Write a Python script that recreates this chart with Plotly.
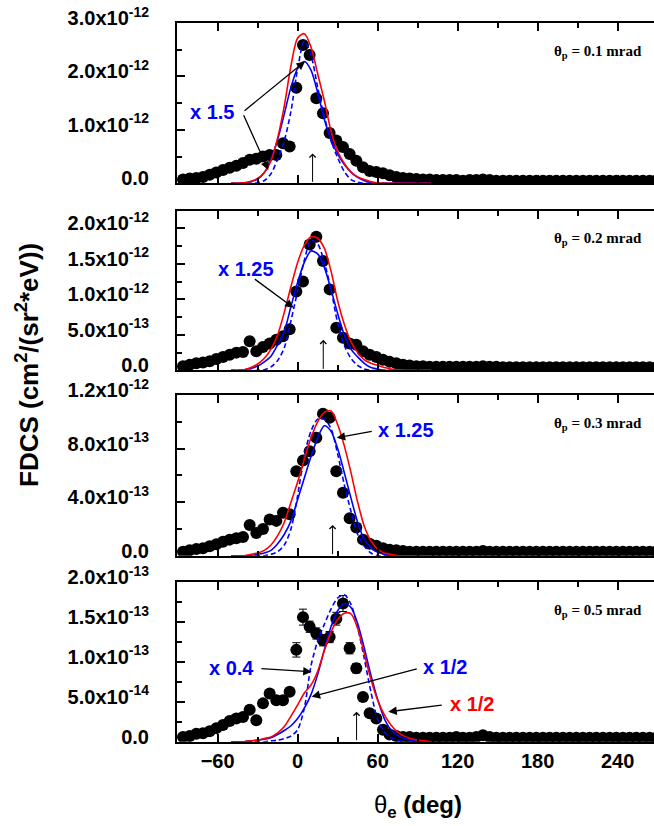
import plotly.graph_objects as go

# ---------------- data ----------------
theta_e = [-86, -81, -76, -71, -66, -61, -56, -51, -46, -41, -36, -31, -26, -21, -16, -11, -6, -1,
           4, 9, 14, 19, 24, 29, 34, 39, 44, 49, 54, 59, 64, 69, 74, 79, 84, 89, 94, 99,
           104, 109, 114, 119, 124, 129, 134, 139, 144, 149, 154, 159, 164, 169, 174, 179,
           184, 189, 194, 199, 204, 209, 214, 219, 224, 229, 234, 239, 244, 249, 254, 259, 264, 269]

# experimental FDCS, in units of the panel scale
exp_p1 = [0.07, 0.09, 0.10, 0.12, 0.16, 0.20, 0.25, 0.29, 0.33, 0.38, 0.44, 0.46, 0.50, 0.53, 0.53, 0.75, 0.69, 1.79,
          2.59, 2.40, 1.59, 1.31, 0.94, 0.80, 0.68, 0.55, 0.42, 0.30, 0.23, 0.21, 0.19, 0.15, 0.12, 0.10, 0.09, 0.08, 0.07, 0.07,
          0.06, 0.06, 0.06, 0.06, 0.05, 0.06, 0.06, 0.07, 0.06, 0.05, 0.05, 0.05, 0.05, 0.05, 0.05, 0.05,
          0.05, 0.05, 0.05, 0.05, 0.05, 0.05, 0.05, 0.05, 0.05, 0.05, 0.05, 0.05, 0.05, 0.05, 0.05, 0.05, 0.05, 0.05]
exp_p2 = [0.06, 0.08, 0.10, 0.11, 0.13, 0.16, 0.19, 0.22, 0.25, 0.26, 0.41, 0.27, 0.33, 0.38, 0.43, 0.48, 0.58, 1.11,
          1.25, 1.77, 1.88, 1.54, 1.14, 0.60, 0.46, 0.38, 0.36, 0.27, 0.22, 0.19, 0.15, 0.12, 0.10, 0.08, 0.07, 0.06, 0.06, 0.05,
          0.05, 0.05, 0.05, 0.05, 0.05, 0.05, 0.05, 0.06, 0.05, 0.05, 0.045, 0.045, 0.045, 0.045, 0.045, 0.045,
          0.045, 0.045, 0.045, 0.045, 0.045, 0.045, 0.045, 0.045, 0.045, 0.045, 0.045, 0.045, 0.045, 0.045, 0.045, 0.045, 0.045, 0.045]
exp_p3 = [0.03, 0.04, 0.05, 0.055, 0.07, 0.085, 0.105, 0.12, 0.13, 0.14, 0.23, 0.17, 0.20, 0.27, 0.26, 0.32, 0.31, 0.63,
          0.71, 0.78, 0.88, 1.06, 1.03, 0.63, 0.47, 0.28, 0.21, 0.12, 0.09, 0.075, 0.055, 0.045, 0.04, 0.035, 0.03, 0.03, 0.03, 0.03,
          0.03, 0.03, 0.03, 0.03, 0.03, 0.03, 0.03, 0.035, 0.03, 0.03, 0.03, 0.03, 0.03, 0.03, 0.03, 0.03,
          0.03, 0.03, 0.03, 0.03, 0.03, 0.03, 0.03, 0.03, 0.03, 0.03, 0.03, 0.03, 0.03, 0.03, 0.03, 0.03, 0.03, 0.03]
exp_p4 = [0.06, 0.07, 0.10, 0.105, 0.13, 0.17, 0.21, 0.26, 0.29, 0.31, 0.40, 0.27, 0.48, 0.605, 0.52, 0.52, 0.625, 1.15,
          1.56, 1.44, 1.355, 1.27, 1.31, 1.54, 1.73, 1.17, 0.92, 0.56, 0.355, 0.29, 0.15, 0.09, 0.07, 0.06, 0.06, 0.05, 0.05, 0.05,
          0.05, 0.05, 0.05, 0.06, 0.05, 0.05, 0.06, 0.08, 0.06, 0.05, 0.05, 0.05, 0.05, 0.05, 0.05, 0.05,
          0.05, 0.05, 0.05, 0.05, 0.05, 0.05, 0.05, 0.05, 0.05, 0.05, 0.05, 0.05, 0.05, 0.05, 0.05, 0.05, 0.05, 0.05]
err_p4 = [0.04, 0.04, 0.04, 0.04, 0.04, 0.04, 0.04, 0.04, 0.04, 0.04, 0.04, 0.04, 0.04, 0.04, 0.04, 0.04, 0.04, 0.09,
          0.10, 0.07, 0.07, 0.07, 0.07, 0.08, 0.10, 0.07, 0.06, 0.04, 0.04, 0.04, 0.04, 0.04, 0.04, 0.04, 0.04, 0.04, 0.04, 0.04,
          0.04, 0.04, 0.04, 0.04, 0.04, 0.04, 0.04, 0.04, 0.04, 0.04, 0.04, 0.04, 0.04, 0.04, 0.04, 0.04,
          0.04, 0.04, 0.04, 0.04, 0.04, 0.04, 0.04, 0.04, 0.04, 0.04, 0.04, 0.04, 0.04, 0.04, 0.04, 0.04, 0.04, 0.04]

# theory curves
theta_th = [-50, -45, -40, -35, -30, -25, -20, -15, -10, -5, 0, 5, 10, 15, 20, 25, 30, 35, 40, 45,
            50, 55, 60, 65, 70, 75, 80, 85, 90, 95, 100]
red_p1 = [0, 0, 0.01, 0.04, 0.09, 0.20, 0.42, 0.85, 1.45, 2.20, 2.72, 2.80, 2.55, 2.05, 1.55, 0.98, 0.60, 0.37, 0.21, 0.12,
          0.07, 0.03, 0.01, 0, 0, 0, 0, 0, 0, 0, 0]
blue_p1 = [0, 0, 0.01, 0.03, 0.08, 0.20, 0.45, 0.82, 1.30, 1.80, 2.15, 2.28, 2.12, 1.70, 1.20, 0.82, 0.55, 0.35, 0.21, 0.11,
           0.05, 0.02, 0, 0, 0, 0, 0, 0, 0, 0, 0]
dash_p1 = [0, 0, 0, 0, 0.01, 0.05, 0.18, 0.45, 0.80, 1.35, 2.15, 2.66, 2.40, 1.80, 1.25, 0.80, 0.48, 0.22, 0.07, 0.02,
           0, 0, 0, 0, 0, 0, 0, 0, 0, 0, 0]
red_p2 = [0, 0, 0.01, 0.04, 0.09, 0.17, 0.30, 0.50, 0.82, 1.18, 1.52, 1.76, 1.88, 1.86, 1.72, 1.40, 0.98, 0.65, 0.40, 0.25,
          0.15, 0.10, 0.07, 0.04, 0.02, 0.01, 0, 0, 0, 0, 0]
blue_p2 = [0, 0, 0.01, 0.03, 0.06, 0.12, 0.20, 0.36, 0.55, 0.90, 1.24, 1.52, 1.68, 1.64, 1.45, 1.14, 0.80, 0.50, 0.30, 0.19,
           0.10, 0.04, 0.02, 0, 0, 0, 0, 0, 0, 0, 0]
dash_p2 = [0, 0, 0, 0, 0, 0.01, 0.05, 0.14, 0.32, 0.70, 1.12, 1.55, 1.83, 1.78, 1.52, 1.14, 0.67, 0.35, 0.17, 0.07,
           0.02, 0, 0, 0, 0, 0, 0, 0, 0, 0, 0]
red_p3 = [0, 0, 0, 0.01, 0.02, 0.04, 0.08, 0.15, 0.25, 0.40, 0.55, 0.72, 0.88, 1.00, 1.07, 1.08, 0.98, 0.82, 0.62, 0.40,
          0.22, 0.11, 0.05, 0.02, 0.01, 0, 0, 0, 0, 0, 0]
blue_p3 = [0, 0, 0, 0, 0.01, 0.02, 0.04, 0.09, 0.16, 0.26, 0.42, 0.58, 0.74, 0.88, 0.97, 0.93, 0.80, 0.62, 0.43, 0.25,
           0.12, 0.06, 0.025, 0.01, 0, 0, 0, 0, 0, 0, 0]
dash_p3 = [0, 0, 0, 0, 0, 0, 0.01, 0.03, 0.08, 0.20, 0.45, 0.75, 0.93, 1.02, 1.02, 0.95, 0.76, 0.53, 0.33, 0.16,
           0.07, 0.02, 0, 0, 0, 0, 0, 0, 0, 0, 0]
red_p4 = [0, 0, 0, 0.01, 0.02, 0.04, 0.06, 0.11, 0.19, 0.32, 0.46, 0.61, 0.71, 0.88, 1.14, 1.37, 1.53, 1.61, 1.60, 1.42,
          1.10, 0.78, 0.52, 0.34, 0.21, 0.12, 0.07, 0.04, 0.02, 0.01, 0]
blue_p4 = [0, 0, 0, 0.01, 0.02, 0.03, 0.05, 0.09, 0.14, 0.20, 0.29, 0.42, 0.59, 0.84, 1.15, 1.44, 1.64, 1.73, 1.68, 1.48,
           1.17, 0.83, 0.53, 0.29, 0.15, 0.08, 0.04, 0.02, 0.01, 0, 0]
dash_p4 = [0, 0, 0, 0, 0, 0, 0.01, 0.02, 0.04, 0.07, 0.15, 0.42, 0.95, 1.26, 1.47, 1.66, 1.80, 1.84, 1.72, 1.43,
           1.04, 0.62, 0.28, 0.12, 0.05, 0.02, 0, 0, 0, 0, 0]

panel_scale = [1e-12, 1e-12, 1e-12, 1e-13]
panel_labels = ["0.1", "0.2", "0.3", "0.5"]
y_ranges = [[0, 3.0], [0, 2.25], [0, 1.2], [0, 2.0]]
y_major = [[0, 1.0, 2.0, 3.0], [0, 0.5, 1.0, 1.5, 2.0], [0, 0.4, 0.8, 1.2], [0, 0.5, 1.0, 1.5, 2.0]]
y_minor = [[0.5, 1.5, 2.5], [0.25, 0.75, 1.25, 1.75], [0.2, 0.6, 1.0], [0.25, 0.75, 1.25, 1.75]]
y_ticktext = [["0.0", "1.0x10<sup>-12</sup>", "2.0x10<sup>-12</sup>", "3.0x10<sup>-12</sup>"],
              ["0.0", "5.0x10<sup>-13</sup>", "1.0x10<sup>-12</sup>", "1.5x10<sup>-12</sup>", "2.0x10<sup>-12</sup>"],
              ["0.0", "4.0x10<sup>-13</sup>", "8.0x10<sup>-13</sup>", "1.2x10<sup>-12</sup>"],
              ["0.0", "5.0x10<sup>-14</sup>", "1.0x10<sup>-13</sup>", "1.5x10<sup>-13</sup>", "2.0x10<sup>-13</sup>"]]
x_ticks = [-60, 0, 60, 120, 180, 240]
x_minor = [-90, -30, 30, 90, 150, 210, 270]
# energy-conservation marker arrows (theta, height)
marker_theta = [11.2, 19.2, 26.2, 44.2]
marker_height = [0.56, 0.43, 0.23, 0.375]

exp_sets = [exp_p1, exp_p2, exp_p3, exp_p4]
red_sets = [red_p1, red_p2, red_p3, red_p4]
blue_sets = [blue_p1, blue_p2, blue_p3, blue_p4]
dash_sets = [dash_p1, dash_p2, dash_p3, dash_p4]

# ---------------- layout geometry ----------------
W, H = 654, 826
x_dom = [177 / W, 1.0]
panel_top_px = [23, 210.5, 395, 582]
panel_bot_px = [183.3, 370.4, 555.7, 741.7]
y_doms = [[1 - b / H, 1 - t / H] for t, b in zip(panel_top_px, panel_bot_px)]
X_RANGE = [-90.5, 267.3]

BLUE = "#0000ff"
RED = "#ff0000"
SANS = "Liberation Sans"

fig = go.Figure()
layout_axes = {}
annotations = []

for i in range(4):
    s = panel_scale[i]
    xn = "x" if i == 0 else f"x{i+1}"
    yn = "y" if i == 0 else f"y{i+1}"
    xa = "xaxis" if i == 0 else f"xaxis{i+1}"
    ya = "yaxis" if i == 0 else f"yaxis{i+1}"

    err = None
    if i == 3:
        err = dict(type="data", array=[e * s for e in err_p4], color="black", thickness=1, width=4)
    fig.add_trace(go.Scatter(x=theta_e, y=[v * s for v in exp_sets[i]], mode="markers",
                             marker=dict(color="black", size=12, line=dict(width=0)),
                             error_y=err, xaxis=xn, yaxis=yn))
    fig.add_trace(go.Scatter(x=theta_th, y=[v * s for v in dash_sets[i]], mode="lines",
                             line=dict(color=BLUE, width=1.6, dash="5px,3px", shape="spline", smoothing=0.8),
                             xaxis=xn, yaxis=yn))
    fig.add_trace(go.Scatter(x=theta_th, y=[v * s for v in blue_sets[i]], mode="lines",
                             line=dict(color=BLUE, width=1.6, shape="spline", smoothing=0.8),
                             xaxis=xn, yaxis=yn))
    fig.add_trace(go.Scatter(x=theta_th, y=[v * s for v in red_sets[i]], mode="lines",
                             line=dict(color=RED, width=1.6, shape="spline", smoothing=0.8),
                             xaxis=xn, yaxis=yn))

    layout_axes[xa] = dict(domain=x_dom, anchor=yn, range=X_RANGE, tickmode="array", tickvals=x_ticks,
                           ticks="inside", ticklen=8, tickwidth=1.5, tickcolor="black",
                           minor=dict(tickmode="array", tickvals=x_minor, ticks="inside", ticklen=5,
                                      tickwidth=1.5, tickcolor="black"),
                           showline=True, linewidth=2, linecolor="black", mirror="ticks",
                           showgrid=False, zeroline=False, showticklabels=(i == 3), automargin=False,
                           tickfont=dict(family=SANS, size=20, color="black", weight="bold"),
                           ticklabelstandoff=0)
    if i > 0:
        layout_axes[xa]["matches"] = "x"
    layout_axes[ya] = dict(domain=y_doms[i], anchor=xn, range=[r * s for r in y_ranges[i]],
                           tickmode="array", tickvals=[v * s for v in y_major[i]], ticktext=y_ticktext[i],
                           ticks="inside", ticklen=8, tickwidth=1.5, tickcolor="black",
                           minor=dict(tickmode="array", tickvals=[v * s for v in y_minor[i]], ticks="inside",
                                      ticklen=5, tickwidth=1.5, tickcolor="black"),
                           showline=True, linewidth=2, linecolor="black", mirror=False,
                           showgrid=False, zeroline=False, automargin=False,
                           tickfont=dict(family=SANS, size=20, color="black", weight="bold"),
                           ticklabelstandoff=22, ticklabelshift=-5)

    # panel label
    annotations.append(dict(xref="paper", yref="paper", x=644 / W, y=1 - (panel_top_px[i] + 29) / H,
                            xanchor="right", yanchor="middle", showarrow=False,
                            text="<b>θ<sub>p</sub> = " + panel_labels[i] + " mrad</b>",
                            font=dict(family="Liberation Serif", size=15, color="black")))
    # vertical arrow
    annotations.append(dict(xref=xn, yref=yn, axref=xn, ayref=yn, x=marker_theta[i], y=marker_height[i] * s,
                            ax=marker_theta[i], ay=0, text="", showarrow=True, arrowhead=4, arrowsize=1.2,
                            arrowwidth=1, arrowcolor="black"))

# scaling annotations (text, panel, text x, text y, colour)
scale_notes = [
    ("x 1.5", 0, -64.3, 1.335, BLUE),
    ("x 1.25", 1, -38.8, 1.42, BLUE),
    ("x 1.25", 2, 81.3, 0.935, BLUE),
    ("x 0.4", 3, -49.3, 0.92, BLUE),
    ("x 1/2", 3, 110.5, 0.93, BLUE),
    ("x 1/2", 3, 131.0, 0.47, RED),
]
for txt, p, tx, ty, col in scale_notes:
    xn = "x" if p == 0 else f"x{p+1}"
    yn = "y" if p == 0 else f"y{p+1}"
    annotations.append(dict(xref=xn, yref=yn, x=tx, y=ty * panel_scale[p], text="<b>" + txt + "</b>",
                            showarrow=False, font=dict(family=SANS, size=20, color=col)))

# pointer arrows: panel, tail (theta, value), head (theta, value)
pointers = [
    (0, -41.0, 1.335, 5.5, 2.28),
    (0, -41.0, 1.30, -22.0, 0.25),
    (1, -33.3, 1.30, -3.0, 0.88),
    (2, 56.7, 0.93, 29.3, 0.88),
    (3, -28.3, 0.917, 10.5, 0.875),
    (3, 90.5, 0.917, 10.5, 0.5625),
    (3, 109.2, 0.46, 68.0, 0.375),
]
for p, x0, y0, x1, y1 in pointers:
    xn = "x" if p == 0 else f"x{p+1}"
    yn = "y" if p == 0 else f"y{p+1}"
    s = panel_scale[p]
    annotations.append(dict(xref=xn, yref=yn, axref=xn, ayref=yn, x=x1, y=y1 * s, ax=x0, ay=y0 * s,
                            text="", showarrow=True, arrowhead=2, arrowsize=1.3, arrowwidth=1.3,
                            arrowcolor="black"))

# axis titles
annotations.append(dict(xref="paper", yref="paper", x=418 / W, y=1 - 806 / H, showarrow=False,
                        xanchor="center", yanchor="middle",
                        text="θ<sub><b>e</b></sub><b> (deg)</b>",
                        font=dict(family=SANS, size=24, color="black")))
annotations.append(dict(xref="paper", yref="paper", x=27 / W, y=1 - 365 / H, showarrow=False, textangle=-90,
                        xanchor="center", yanchor="middle",
                        text="<b>FDCS (cm<sup>2</sup>/(sr<sup>2</sup>*eV))</b>",
                        font=dict(family=SANS, size=26, color="black")))

fig.update_layout(width=W, height=H, autosize=False, margin=dict(l=0, r=0, t=0, b=0, pad=0),
                  plot_bgcolor="white", paper_bgcolor="white", showlegend=False,
                  annotations=annotations, **layout_axes)

fig.write_html("out.html", config={"displayModeBar": False, "responsive": False},
               post_script="document.body.style.margin='0px';")
